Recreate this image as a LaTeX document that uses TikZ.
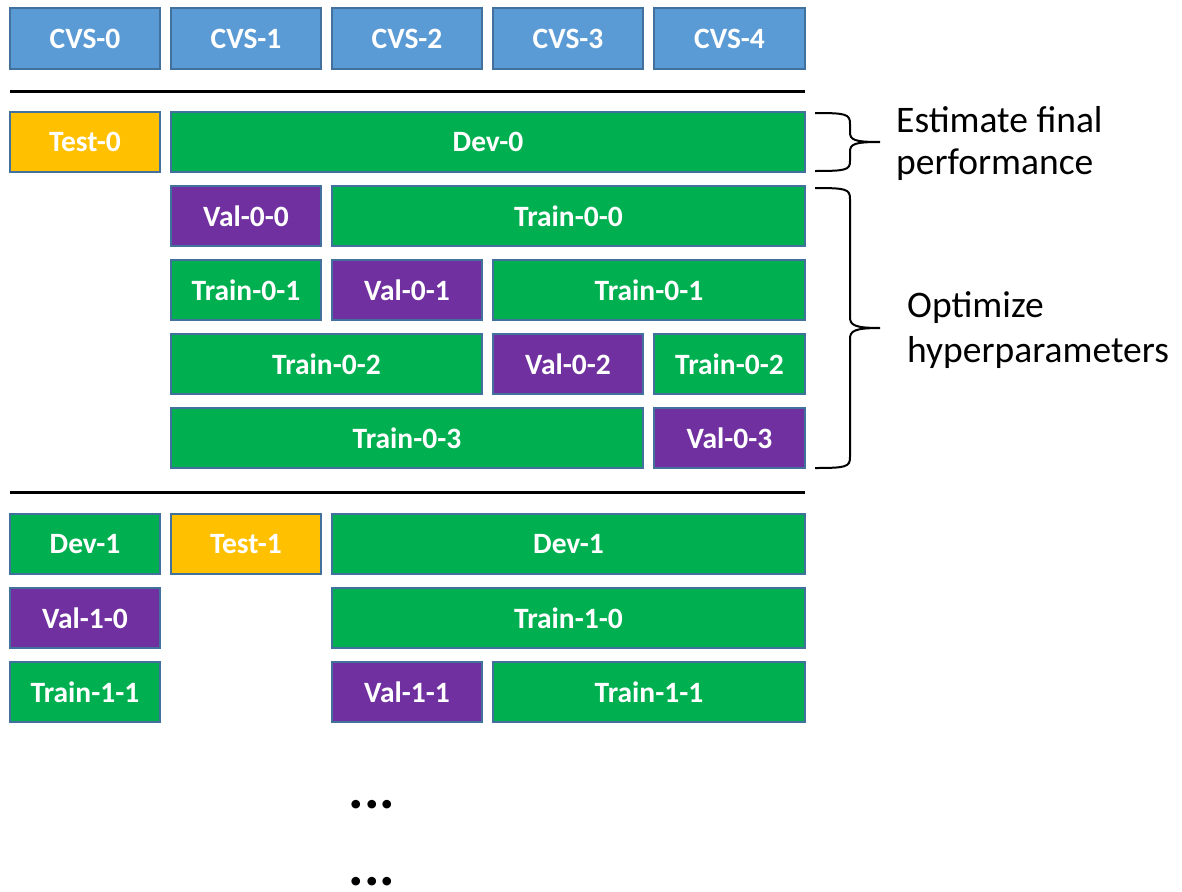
\documentclass[tikz,border=0pt]{standalone}
\usepackage{fontspec}
\setmainfont{Carlito}
\definecolor{cvsblue}{HTML}{5B9BD5}
\definecolor{testyel}{HTML}{FFC000}
\definecolor{devgreen}{HTML}{00B050}
\definecolor{valpurp}{HTML}{7030A0}
\definecolor{edge}{HTML}{41719C}
\tikzset{
  cellbox/.style={draw=edge, line width=1.5pt, inner sep=0pt, text=white,
    font=\fontsize{29.5}{34}\selectfont\bfseries},
  cvs/.style={cellbox, fill=cvsblue},
  tst/.style={cellbox, fill=testyel},
  trn/.style={cellbox, fill=devgreen},
  val/.style={cellbox, fill=valpurp},
  sep/.style={line width=3pt, black},
  brc/.style={line width=2pt, black},
  lbl/.style={anchor=base west, inner sep=0pt, font=\fontsize{37.5}{44}\selectfont},
  dots/.style={inner sep=0pt, font=\fontsize{58}{58}\selectfont\bfseries}
}
% \cell{style}{name}{x1}{y1}{x2}{y2}{text}
\newcommand{\cell}[7]{%
  \node[#1, minimum width={(#5-#3)*1pt}, minimum height={(#6-#4)*1pt}]
    (#2) at ({(#3+#5)/2},{(#4+#6)/2}) {#7};}
\begin{document}
\begin{tikzpicture}[x=1pt,y=-1pt]
\useasboundingbox (0,0) rectangle (1182,891);
% CVS row
\cell{cvs}{c0}{10}{8}{160}{69}{CVS-0}
\cell{cvs}{c1}{171}{8}{321}{69}{CVS-1}
\cell{cvs}{c2}{332}{8}{482}{69}{CVS-2}
\cell{cvs}{c3}{493}{8}{643}{69}{CVS-3}
\cell{cvs}{c4}{654}{8}{805}{69}{CVS-4}
\coordinate (s1a) at (10,91);
\coordinate (s1b) at (805,91);
\draw[sep] (s1a) -- (s1b);
% fold 0
\cell{tst}{test0}{10}{112}{160}{172}{Test-0}
\cell{trn}{dev0}{171}{112}{805}{172}{Dev-0}
\cell{val}{v00}{171}{186}{321}{246}{Val-0-0}
\cell{trn}{t00}{332}{186}{805}{246}{Train-0-0}
\cell{trn}{t01a}{171}{260}{321}{320}{Train-0-1}
\cell{val}{v01}{332}{260}{482}{320}{Val-0-1}
\cell{trn}{t01b}{493}{260}{805}{320}{Train-0-1}
\cell{trn}{t02a}{171}{334}{482}{394}{Train-0-2}
\cell{val}{v02}{493}{334}{643}{394}{Val-0-2}
\cell{trn}{t02b}{654}{334}{805}{394}{Train-0-2}
\cell{trn}{t03}{171}{408}{643}{468}{Train-0-3}
\cell{val}{v03}{654}{408}{805}{468}{Val-0-3}
\coordinate (s2a) at (10,492);
\coordinate (s2b) at (805,492);
\draw[sep] (s2a) -- (s2b);
% fold 1
\cell{trn}{dev1a}{10}{514}{160}{574}{Dev-1}
\cell{tst}{test1}{171}{514}{321}{574}{Test-1}
\cell{trn}{dev1b}{332}{514}{805}{574}{Dev-1}
\cell{val}{v10}{10}{588}{160}{648}{Val-1-0}
\cell{trn}{t10}{332}{588}{805}{648}{Train-1-0}
\cell{trn}{t11a}{10}{662}{160}{722}{Train-1-1}
\cell{val}{v11}{332}{662}{482}{722}{Val-1-1}
\cell{trn}{t11b}{493}{662}{805}{722}{Train-1-1}
% braces
\draw[brc] (815,113) .. controls (846,113) and (850,114) .. (850,124) -- (850,132)
  .. controls (850,140) and (854,142) .. (880,142)
  .. controls (854,142) and (850,144) .. (850,152) -- (850,161)
  .. controls (850,170) and (846,171) .. (815,171);
\draw[brc] (815,188) .. controls (846,188) and (850,189) .. (850,199) -- (850,317)
  .. controls (850,325) and (854,328) .. (880,328)
  .. controls (854,328) and (850,331) .. (850,339) -- (850,457)
  .. controls (850,467) and (846,468) .. (815,468);
% labels
\node[lbl] (est1) at (896,132) {Estimate final};
\node[lbl] (est2) at (896,174) {performance};
\node[lbl] (opt1) at (907,317) {Optimize};
\node[lbl] (opt2) at (907,362) {hyperparameters};
% dots
\node[dots] (d1) at (372,805) {...};
\node[dots] (d2) at (372,882) {...};
\end{tikzpicture}
\end{document}
